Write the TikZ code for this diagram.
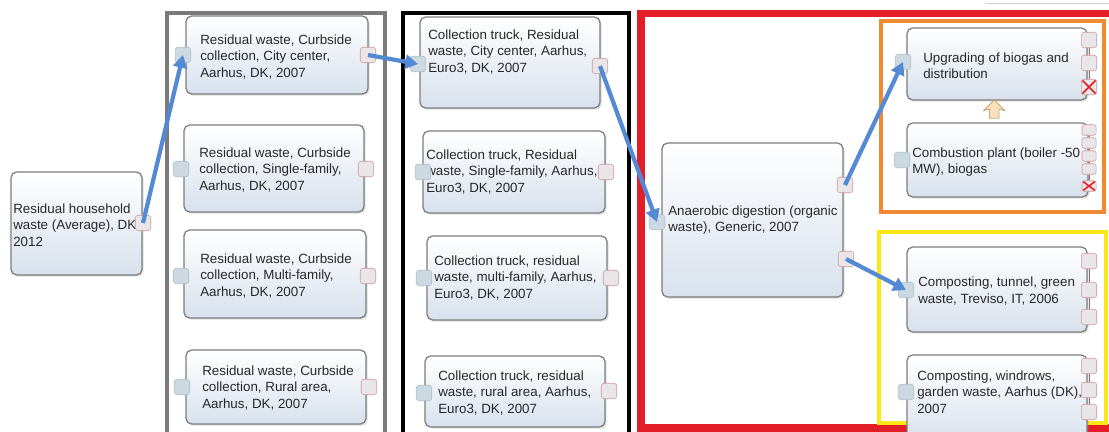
\documentclass[tikz,border=0pt]{standalone}
\usepackage{fontspec}
\setmainfont{Liberation Sans}
\usetikzlibrary{arrows.meta,fit,shadows,shapes.arrows,calc}

\definecolor{boxbot}{RGB}{216,225,237}
\definecolor{boxline}{RGB}{125,125,125}
\definecolor{txtgray}{RGB}{40,40,40}
\definecolor{infill}{RGB}{205,217,225}
\definecolor{inedge}{RGB}{170,190,200}
\definecolor{outfill}{RGB}{232,230,232}
\definecolor{outedge}{RGB}{210,150,150}
\definecolor{flowblue}{RGB}{84,138,212}
\definecolor{framegray}{RGB}{122,122,122}
\definecolor{framered}{RGB}{228,30,38}
\definecolor{frameorange}{RGB}{240,138,50}
\definecolor{frameyellow}{RGB}{250,232,20}
\definecolor{beige}{RGB}{248,226,190}
\definecolor{beigeedge}{RGB}{200,165,120}

\begin{document}
\begin{tikzpicture}[x=0.025cm,y=-0.025cm,
    blk/.style={draw=boxline,line width=0.9pt,rounded corners=4pt,
      top color=white,bottom color=boxbot,inner sep=0pt,
      drop shadow={shadow xshift=1.2pt,shadow yshift=-1.2pt,opacity=0.25}},
    lbl/.style={anchor=west,align=left,inner sep=0pt,text=txtgray,
      font=\fontsize{9.5}{11.7}\selectfont},
    inp/.style={draw=inedge,fill=infill,rounded corners=2pt,
      minimum size=11pt,inner sep=0pt},
    outp/.style={draw=outedge,fill=outfill,rounded corners=2pt,
      minimum size=11pt,inner sep=0pt},
    sidep/.style={outp,minimum size=11pt},
    smallp/.style={outp,minimum width=10pt,minimum height=7.5pt,rounded corners=1.5pt},
    xmark/.style={path picture={
      \draw[framered,line width=1.1pt]
        (path picture bounding box.north west) -- (path picture bounding box.south east)
        (path picture bounding box.north east) -- (path picture bounding box.south west);}},
    tie/.style={draw=outedge!70!black,line width=0.5pt},
    flow/.style={draw=flowblue,line width=3pt,-{Triangle[length=9pt,width=10pt]}},
    frm/.style={line width=#1}]

  \useasboundingbox (0,0) rectangle (1109,432);
  \clip (0,0) rectangle (1109,432);

  % group frames
  \draw[frm=3.5pt,framegray] (167,13) rectangle (385,470);
  \draw[frm=3.5pt,black] (403,13) rectangle (629,470);
  \draw[frm=5pt,framered] (641,13.5) rectangle (1125,428);
  \draw[frm=3pt,frameorange] (881,21) rectangle (1104,212);
  \draw[frm=3pt,frameyellow] (879,232) rectangle (1106,423);
  \draw[gray!35,line width=0.6pt] (985,3) -- (1109,3);

  % process boxes
  \foreach \n/\xa/\ya/\xb/\yb in {%
      B0/11/172/142/275,
      A1/186/16/368/94,  A2/184/125/364/212, A3/184/230/366/318, A4/186/350/366/424,
      C1/420/17/600/108, C2/423/131/605/213, C3/427/236/607/320, C4/425/356/605/427,
      D/662/143/843/297,
      U/907/28/1087/100, P/907/123/1088/197, T/907/247/1087/332, W/907/355/1087/445}
    \node[blk,fit={(\xa,\ya) (\xb,\yb)}] (\n) {};

  % box texts
  \foreach \n/\x/\y/\txt in {%
      B0t/13/225/{Residual household\\waste (Average), DK\\2012},
      A1t/200/57/{Residual waste, Curbside\\collection, City center,\\Aarhus, DK, 2007},
      A2t/199/170/{Residual waste, Curbside\\collection, Single-family,\\Aarhus, DK, 2007},
      A3t/200/276/{Residual waste, Curbside\\collection, Multi-family,\\Aarhus, DK, 2007},
      A4t/202/388/{Residual waste, Curbside\\collection, Rural area,\\Aarhus, DK, 2007},
      C1t/428/52/{Collection truck, Residual\\waste, City center, Aarhus,\\Euro3, DK, 2007},
      C2t/426/172/{Collection truck, Residual\\waste, Single-family, Aarhus,\\Euro3, DK, 2007},
      C3t/434/278/{Collection truck, residual\\waste, multi-family, Aarhus,\\Euro3, DK, 2007},
      C4t/438/393/{Collection truck, residual\\waste, rural area, Aarhus,\\Euro3, DK, 2007},
      Dt/668/220/{Anaerobic digestion (organic\\waste), Generic, 2007},
      Ut/923/66/{Upgrading of biogas and\\distribution},
      Pt/912/162/{Combustion plant (boiler -50\\MW), biogas},
      Tt/918/291/{Composting, tunnel, green\\waste, Treviso, IT, 2006},
      Wt/917/392/{Composting, windrows,\\garden waste, Aarhus (DK),\\2007}}
    \node[lbl] (\n) at (\x,\y) {\txt};

  % input and output ports
  \foreach \n/\x/\y in {A1i/183/55, A2i/181/169, A3i/181/276, A4i/182/387,
      C1i/418/64, C2i/423/172, C3i/424/278, C4i/424/393,
      Di/657/222, Ui/903/62, Pi/902/160, Ti/906/290, Wi/906/392}
    \node[inp] (\n) at (\x,\y) {};
  \foreach \n/\x/\y in {B0o/143/223, A1o/368/55, A2o/366/169, A3o/368/276, A4o/369/387,
      C1o/600/66, C2o/606/172, C3o/611/278, C4o/609/391,
      Do1/845/185, Do2/846/259}
    \node[outp] (\n) at (\x,\y) {};

  % side ports of the downstream boxes
  \node[sidep] (U1) at (1089,40) {};
  \node[sidep] (U2) at (1089,63) {};
  \node[sidep,xmark] (Ux) at (1089,87) {};
  \draw[tie] (U1) -- (U2) -- (Ux);
  \foreach \i/\y in {1/130,2/143,3/156,4/169}
    \node[smallp] (P\i) at (1089,\y) {};
  \node[smallp,xmark] (Px) at (1089,186) {};
  \draw[tie] (P1) -- (P2) -- (P3) -- (P4) -- (Px);
  \foreach \i/\y in {1/261,2/290,3/317}
    \node[sidep] (T\i) at (1089,\y) {};
  \draw[tie] (T1) -- (T2) -- (T3);
  \foreach \i/\y in {1/366,2/390,3/412}
    \node[sidep] (W\i) at (1089,\y) {};
  \draw[tie] (W1) -- (W2) -- (W3);

  % substitution arrow
  \node[single arrow,shape border rotate=90,fill=beige,draw=beigeedge,line width=0.6pt,
    inner sep=2.6pt,minimum width=15pt,minimum height=13pt,
    single arrow head extend=3.5pt,single arrow head indent=1pt] (up)
    at ($(P.north)!0.5!(U.south)+(-3,0)$) {};

  % material flows
  \draw[flow] (B0o.center) -- (A1i.center);
  \draw[flow] (A1o.center) -- (C1i.center);
  \draw[flow] (C1o.center) -- (Di.center);
  \draw[flow] (Do1.center) -- (Ui.center);
  \draw[flow] (Do2.center) -- (Ti.center);
\end{tikzpicture}
\end{document}
